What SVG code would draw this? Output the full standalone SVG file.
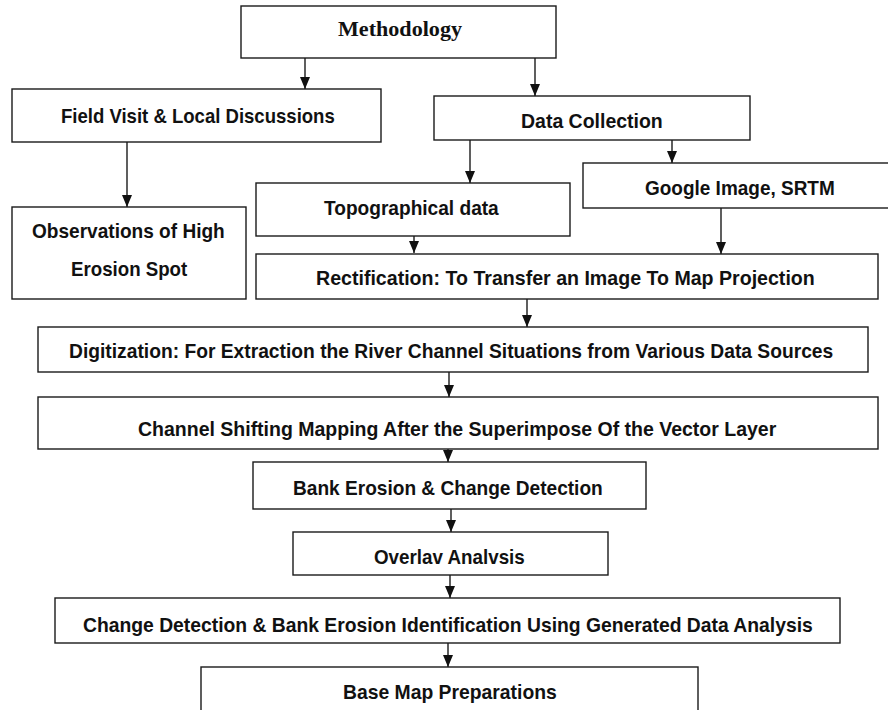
<svg xmlns="http://www.w3.org/2000/svg" width="888" height="710" viewBox="0 0 888 710">
<style>
.box{fill:#fff;stroke:#1a1a1a;stroke-width:1.4}
.t{font-family:"Liberation Sans",Arial,sans-serif;font-weight:bold;font-size:21px;fill:#111}
.s{font-family:"Liberation Serif","Times New Roman",serif;font-weight:bold;font-size:21px;fill:#111}
.c{stroke:#1a1a1a;stroke-width:1.4;fill:none;marker-end:url(#ah)}
</style>
<defs>
<marker id="ah" viewBox="0 0 12 10" refX="12" refY="5" markerWidth="12" markerHeight="10" markerUnits="userSpaceOnUse" orient="auto">
<path d="M0,0 L12,5 L0,10 z" fill="#111"/>
</marker>
</defs>
<rect width="888" height="710" fill="#fff"/>
<g id="connectors">
<line class="c" x1="305" y1="58" x2="305" y2="89"/>
<line class="c" x1="535" y1="58" x2="535" y2="96"/>
<line class="c" x1="127" y1="142" x2="127" y2="207"/>
<line class="c" x1="470" y1="140" x2="470" y2="183"/>
<line class="c" x1="672" y1="140" x2="672" y2="163"/>
<line class="c" x1="414" y1="224" x2="414" y2="253"/>
<line class="c" x1="721" y1="208" x2="721" y2="254"/>
<line class="c" x1="527" y1="299" x2="527" y2="327"/>
<line class="c" x1="449" y1="372" x2="449" y2="397"/>
<line class="c" x1="448" y1="449" x2="448" y2="462"/>
<line class="c" x1="451" y1="509" x2="451" y2="532"/>
<line class="c" x1="450" y1="575" x2="450" y2="598"/>
<line class="c" x1="448" y1="643" x2="448" y2="667"/>
</g>
<g id="methodology"><rect class="box" x="241" y="6" width="315" height="52"/><text class="s" x="338" y="36" textLength="124" lengthAdjust="spacingAndGlyphs">Methodology</text></g>
<g id="field-visit"><rect class="box" x="12" y="89" width="369" height="53"/><text class="t" transform="translate(61,123) scale(0.75,1)" textLength="365" lengthAdjust="spacingAndGlyphs">Field Visit &amp; Local Discussions</text></g>
<g id="data-collection"><rect class="box" x="434" y="96" width="316" height="44"/><text class="t" transform="translate(521,128) scale(0.75,1)" textLength="189" lengthAdjust="spacingAndGlyphs">Data Collection</text></g>
<g id="observations"><rect class="box" x="12" y="207" width="234" height="92"/><text class="t" transform="translate(32,238) scale(0.75,1)" textLength="257" lengthAdjust="spacingAndGlyphs">Observations of High</text><text class="t" transform="translate(71,276) scale(0.75,1)" textLength="155" lengthAdjust="spacingAndGlyphs">Erosion Spot</text></g>
<g id="google-image"><rect class="box" x="583" y="163" width="310" height="45"/><text class="t" transform="translate(645,195) scale(0.75,1)" textLength="253" lengthAdjust="spacingAndGlyphs">Google Image, SRTM</text></g>
<g id="topographical"><rect class="box" x="256" y="183" width="314" height="53"/><text class="t" transform="translate(324,215) scale(0.75,1)" textLength="233" lengthAdjust="spacingAndGlyphs">Topographical data</text></g>
<g id="rectification"><rect class="box" x="256" y="254" width="622" height="45"/><text class="t" transform="translate(316,285) scale(0.75,1)" textLength="665" lengthAdjust="spacingAndGlyphs">Rectification: To Transfer an Image To Map Projection</text></g>
<g id="digitization"><rect class="box" x="38" y="327" width="830" height="45"/><text class="t" transform="translate(69,358) scale(0.75,1)" textLength="1019" lengthAdjust="spacingAndGlyphs">Digitization: For Extraction the River Channel Situations from Various Data Sources</text></g>
<g id="channel-shifting"><rect class="box" x="38" y="397" width="840" height="52"/><text class="t" transform="translate(138,436) scale(0.75,1)" textLength="851" lengthAdjust="spacingAndGlyphs">Channel Shifting Mapping After the Superimpose Of the Vector Layer</text></g>
<g id="bank-erosion"><rect class="box" x="253" y="462" width="393" height="47"/><text class="t" transform="translate(293,495) scale(0.75,1)" textLength="413" lengthAdjust="spacingAndGlyphs">Bank Erosion &amp; Change Detection</text></g>
<g id="overlay"><rect class="box" x="293" y="532" width="315" height="43"/><text class="t" transform="translate(374,564) scale(0.75,1)" textLength="201" lengthAdjust="spacingAndGlyphs">Overlav Analvsis</text></g>
<g id="change-detection"><rect class="box" x="55" y="598" width="785" height="45"/><text class="t" transform="translate(83,632) scale(0.75,1)" textLength="973" lengthAdjust="spacingAndGlyphs">Change Detection &amp; Bank Erosion Identification Using Generated Data Analysis</text></g>
<g id="base-map"><rect class="box" x="201" y="667" width="497" height="50"/><text class="t" transform="translate(343,699) scale(0.75,1)" textLength="285" lengthAdjust="spacingAndGlyphs">Base Map Preparations</text></g>
</svg>
